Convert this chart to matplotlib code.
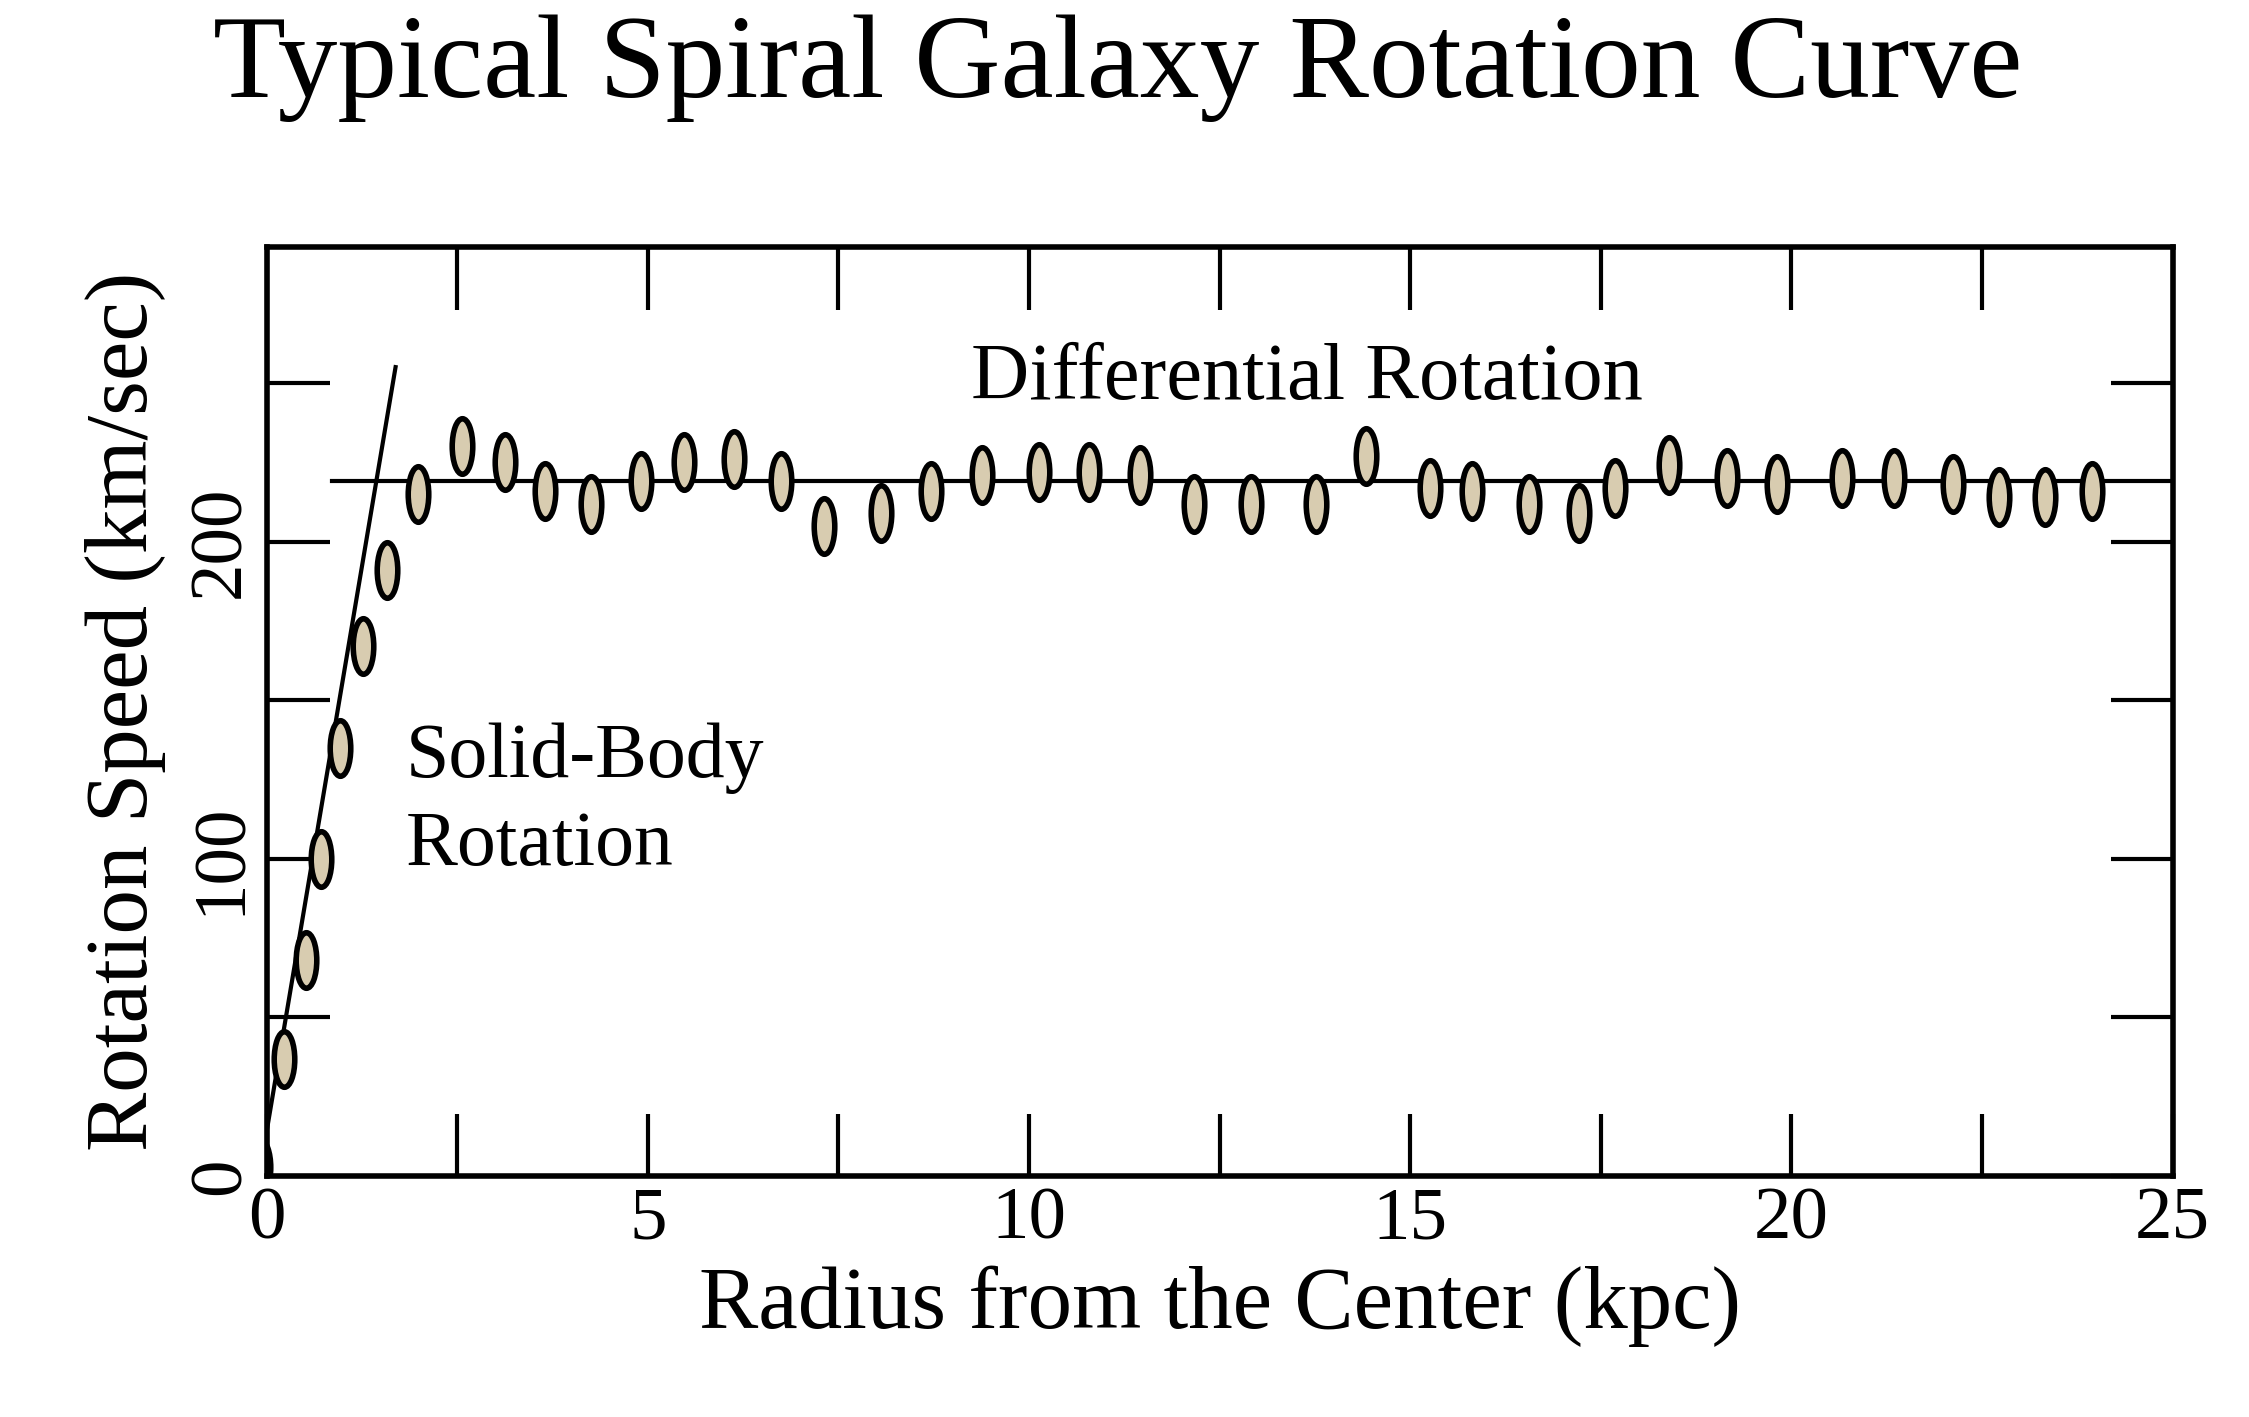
import matplotlib.pyplot as plt
import numpy as np
from matplotlib.path import Path

plt.rcParams['font.family'] = ['Liberation Serif', 'DejaVu Serif']

# 数据
radius = [-0.09, 0.23, 0.51, 0.71, 0.96, 1.26, 1.58, 1.99, 2.56, 3.12, 3.65, 4.25,
          4.91, 5.47, 6.13, 6.75, 7.31, 8.06, 8.72, 9.38, 10.13, 10.79, 11.45,
          12.16, 12.91, 13.76, 14.42, 15.26, 15.81, 16.56, 17.22, 17.69, 18.40,
          19.15, 19.81, 20.66, 21.35, 22.12, 22.73, 23.33, 23.95]
speed = [3, 37, 68, 100, 135, 167, 191, 215, 230, 225, 216, 212,
         219, 225, 226, 219, 205, 209, 216, 221, 222, 222, 221,
         212, 212, 212, 227, 217, 216, 212, 209, 217, 224,
         220, 218, 220, 220, 218, 214, 214, 216]
solid_x = [-0.1, 1.69]
solid_y = [0, 255]
flat_x = [0.85, 25]
flat_y = [219, 219]

# 竖椭圆标记
circ = Path.unit_circle()
ellipse = Path(circ.vertices * np.array([0.37, 1.0]), circ.codes)

fig = plt.figure(figsize=(22.49, 14.17), dpi=100)
ax = fig.add_axes([0.1186, 0.170, 0.966 - 0.1186, 0.826 - 0.170])

ax.plot(solid_x, solid_y, color='black', linewidth=3)
ax.plot(flat_x, flat_y, color='black', linewidth=3)
ax.plot(radius, speed, linestyle='none', marker=ellipse, markersize=40,
        markerfacecolor='#d8ccb0', markeredgecolor='black', markeredgewidth=4)

ax.set_xlim(0, 25)
ax.set_ylim(0, 293)
ax.set_xticks(np.arange(0, 25.1, 2.5))
ax.set_xticklabels(['0', '', '5', '', '10', '', '15', '', '20', '', '25'])
ax.set_yticks(np.arange(0, 300, 50))
ax.set_yticklabels(['0', '', '100', '', '200', ''], rotation=90, va='center')
ax.tick_params(direction='in', length=45, width=3, labelsize=54,
               top=True, right=True, pad=8)
for s in ax.spines.values():
    s.set_linewidth(4)

ax.text(1.82, 143, 'Solid-Body\nRotation', fontsize=56, va='top',
        linespacing=1.3)
ax.text(13.65, 251, 'Differential Rotation', fontsize=58, ha='center', va='center')

ax.set_xlabel('Radius from the Center (kpc)', fontsize=64, labelpad=8)
ax.set_ylabel('Rotation Speed (km/sec)', fontsize=64, labelpad=16)
fig.suptitle('Typical Spiral Galaxy Rotation Curve', fontsize=86, x=0.497, y=0.99)

fig.savefig('out.png', dpi=100)
